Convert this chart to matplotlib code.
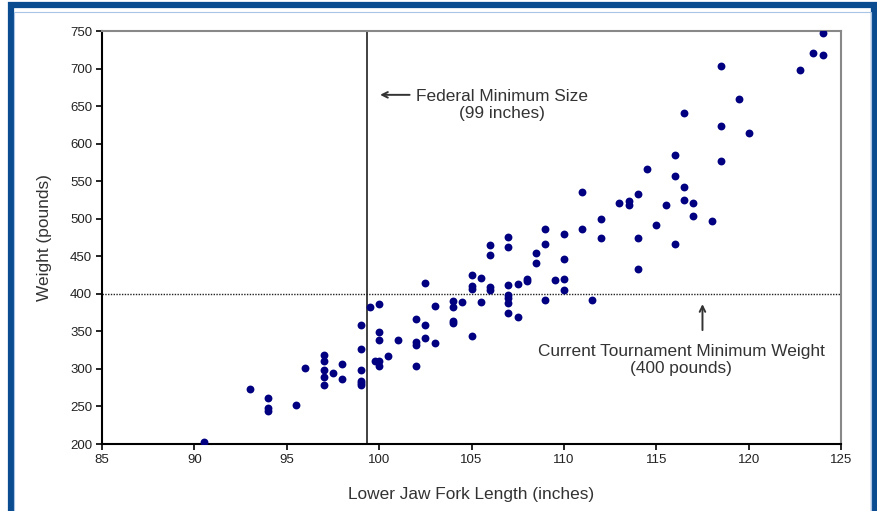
import matplotlib.pyplot as plt
from matplotlib.patches import Rectangle

# lower jaw fork length (inches) and weight (pounds)
LENGTH = [90.5, 93, 94, 94, 94, 95.5, 96,
          97, 97, 97, 97, 97, 97.5, 98, 98,
          99, 99, 99, 99, 99, 99, 99.5, 99.75,
          100, 100, 100, 100, 100, 100.5, 101,
          102, 102, 102, 102, 102.5, 102.5, 102.5, 103, 103,
          104, 104, 104, 104, 104.5, 105, 105, 105, 105, 105.5, 105.5,
          106, 106, 106, 106, 107, 107, 107, 107, 107, 107, 107,
          107.5, 107.5, 108, 108, 108.5, 108.5, 109, 109, 109, 109.5,
          110, 110, 110, 110, 111, 111, 111.5, 112, 112, 113, 113.5, 113.5,
          114, 114, 114, 114.5, 115, 115.5, 116, 116, 116, 116.5, 116.5, 116.5,
          117, 117, 118, 118.5, 118.5, 118.5, 119.5, 120, 122.8, 123.5, 124, 124]
WEIGHT = [203, 273, 261, 248, 244, 252, 301,
          318, 310, 299, 289, 278, 295, 306, 286,
          358, 326, 299, 284, 281, 278, 383, 311,
          386, 349, 338, 311, 304, 317, 339,
          366, 336, 332, 304, 415, 358, 341, 384, 335,
          390, 382, 364, 361, 389, 425, 410, 407, 344, 421, 389,
          465, 452, 409, 405, 476, 463, 412, 399, 394, 388, 375,
          413, 369, 420, 417, 455, 441, 486, 467, 392, 419,
          480, 447, 420, 405, 535, 487, 392, 500, 475, 521, 524, 518,
          533, 474, 433, 566, 492, 518, 585, 557, 467, 641, 542, 525,
          521, 503, 497, 703, 624, 577, 659, 614, 698, 721, 748, 718]

FEDERAL_MIN = 99.35
TOURNAMENT_MIN = 400

plt.rcParams['font.family'] = ['Liberation Sans', 'DejaVu Sans']

fig = plt.figure(figsize=(8.78, 5.11), dpi=100)
ax = fig.add_axes([0.1162, 0.1311, 0.8417, 0.8082])

# blue frame around the chart
fig.patches.append(Rectangle((0.0125, -0.05), 0.9835, 1.04, transform=fig.transFigure,
                             fill=False, edgecolor='#0b4c91', linewidth=4.5, zorder=0))
fig.patches.append(Rectangle((0.0165, -0.05), 0.9755, 1.027, transform=fig.transFigure,
                             fill=False, edgecolor='#a9c4e4', linewidth=0.8, zorder=0))

ax.scatter(LENGTH, WEIGHT, s=32, color='#000080', zorder=3, linewidths=0)

ax.axvline(FEDERAL_MIN, color='#333333', linewidth=1.3, zorder=2)
ax.axhline(TOURNAMENT_MIN, color='#222222', linewidth=1.0, linestyle=(0, (1, 1)), zorder=2)

ax.annotate('', xy=(99.9, 665), xytext=(101.8, 665),
            arrowprops=dict(arrowstyle='->', color='#333333', lw=1.4))
ax.text(106.65, 652, 'Federal Minimum Size\n(99 inches)', ha='center', va='center',
        fontsize=12.4, color='#333333', linespacing=1.15)

ax.annotate('', xy=(117.5, 390), xytext=(117.5, 348),
            arrowprops=dict(arrowstyle='->', color='#333333', lw=1.4))
ax.text(116.35, 312, 'Current Tournament Minimum Weight\n(400 pounds)', ha='center', va='center',
        fontsize=12.4, color='#333333', linespacing=1.15)

ax.set_xlim(85, 125)
ax.set_ylim(200, 750)
ax.set_xticks(range(85, 126, 5))
ax.set_yticks(range(200, 751, 50))
ax.tick_params(direction='out', length=4, width=1.2, labelsize=9.5, colors='black',
               labelcolor='#222222', pad=3)

ax.spines['left'].set_linewidth(1.5)
ax.spines['bottom'].set_linewidth(1.5)
ax.spines['top'].set_color('#888888')
ax.spines['right'].set_color('#888888')
ax.spines['top'].set_linewidth(1.5)
ax.spines['right'].set_linewidth(1.5)

ax.set_xlabel('Lower Jaw Fork Length (inches)', fontsize=12.4, color='#333333', labelpad=15)
ax.set_ylabel('Weight (pounds)', fontsize=12.4, color='#333333', labelpad=13)

fig.savefig('out.png', dpi=100)
